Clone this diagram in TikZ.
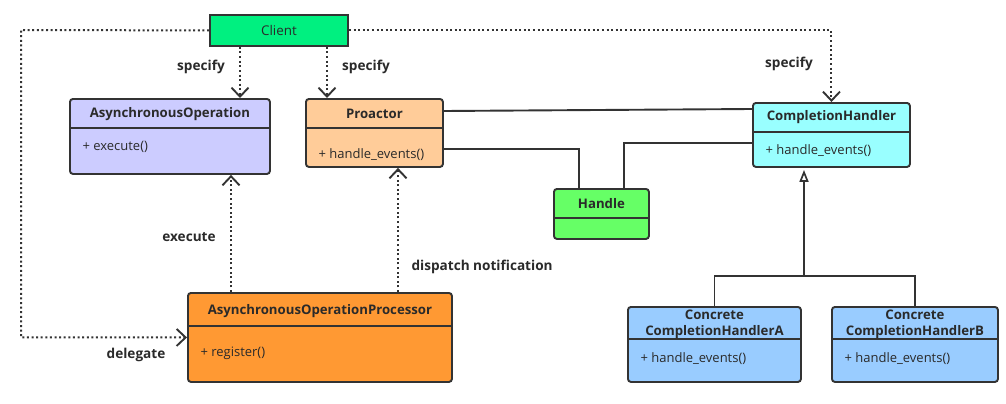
\documentclass[tikz,border=0pt]{standalone}
\usepackage{fontspec}
\setmainfont{Open Sans}
\usetikzlibrary{arrows.meta,calc}
\definecolor{linec}{HTML}{333333}
\definecolor{textc}{HTML}{2A2A2A}
\definecolor{cclient}{HTML}{00F080}
\definecolor{cao}{HTML}{CCCCFF}
\definecolor{cpr}{HTML}{FFCC99}
\definecolor{cch}{HTML}{99FFFF}
\definecolor{chd}{HTML}{66FF66}
\definecolor{caop}{HTML}{FF9933}
\definecolor{ccon}{HTML}{99CCFF}
\begin{document}
\begin{tikzpicture}[x=1pt,y=-1pt,
  box/.style={draw=linec, line width=1.9pt, rounded corners=3pt, anchor=north west, inner sep=0pt},
  title/.style={font=\bfseries\fontsize{13.2}{16}\selectfont, text=textc, align=center},
  meth/.style={font=\fontsize{13}{15}\selectfont, text=textc, anchor=west},
  lbl/.style={font=\bfseries\fontsize{13.6}{16}\selectfont, text=textc},
  conn/.style={draw=linec, line width=1.9pt},
  dep/.style={draw=linec, line width=2pt, dash pattern=on 2pt off 2.6pt,
     -{Straight Barb[length=9pt,width=17pt,line width=1.9pt]}},
  gen/.style={conn, -{Triangle[length=12pt,width=9pt,fill=white,line width=1.7pt]}, shorten >=2pt}]
\useasboundingbox (0,0) rectangle (1006,404);

% boxes
\node[box, rounded corners=0pt, fill=cclient, minimum width=138pt, minimum height=31pt] (client) at (209,14) {};
\node[font=\fontsize{13.4}{16}\selectfont, text=textc] at (client.center) {Client};

\node[box, fill=cao, minimum width=200pt, minimum height=75pt] (ao) at (69,98) {};
\draw[conn] ([yshift=-30pt]ao.north west) -- ([yshift=-30pt]ao.north east);
\node[title] at ([yshift=-16pt]ao.north) {AsynchronousOperation};
\node[meth] at ([xshift=10pt,yshift=-49pt]ao.north west) {+\ execute()};

\node[box, fill=cpr, minimum width=137pt, minimum height=68pt] (pr) at (305,98) {};
\draw[conn] ([yshift=-30pt]pr.north west) -- ([yshift=-30pt]pr.north east);
\node[title] at ([yshift=-16pt]pr.north) {Proactor};
\node[meth] at ([xshift=10pt,yshift=-57pt]pr.north west) {+\ handle\_events()};

\node[box, fill=cch, minimum width=157pt, minimum height=64pt] (ch) at (752,102) {};
\draw[conn] ([yshift=-30pt]ch.north west) -- ([yshift=-30pt]ch.north east);
\node[title] at ([yshift=-15pt]ch.north) {CompletionHandler};
\node[meth] at ([xshift=10pt,yshift=-49pt]ch.north west) {+\ handle\_events()};

\node[box, fill=chd, minimum width=95pt, minimum height=50pt] (handle) at (553,188) {};
\draw[conn] ([yshift=-30pt]handle.north west) -- ([yshift=-30pt]handle.north east);
\node[title] at ([yshift=-16pt]handle.north) {Handle};

\node[box, fill=caop, minimum width=264pt, minimum height=89pt] (aop) at (187,292) {};
\draw[conn] ([yshift=-34pt]aop.north west) -- ([yshift=-34pt]aop.north east);
\node[title] at ([yshift=-19pt]aop.north) {AsynchronousOperationProcessor};
\node[meth] at ([xshift=10pt,yshift=-61pt]aop.north west) {+\ register()};

\node[box, fill=ccon, minimum width=173pt, minimum height=75pt] (ca) at (627,306) {};
\draw[conn] ([yshift=-33pt]ca.north west) -- ([yshift=-33pt]ca.north east);
\node[title, font=\bfseries\fontsize{13.2}{16}\selectfont] at ([yshift=-18pt]ca.north) {Concrete\\CompletionHandlerA};
\node[meth] at ([xshift=10pt,yshift=-53pt]ca.north west) {+\ handle\_events()};

\node[box, fill=ccon, minimum width=166pt, minimum height=75pt] (cb) at (831,306) {};
\draw[conn] ([yshift=-33pt]cb.north west) -- ([yshift=-33pt]cb.north east);
\node[title, font=\bfseries\fontsize{13.2}{16}\selectfont] at ([yshift=-18pt]cb.north) {Concrete\\CompletionHandlerB};
\node[meth] at ([xshift=10pt,yshift=-53pt]cb.north west) {+\ handle\_events()};

% helper coordinates
\coordinate (cl) at (21,30);
\coordinate (xs1) at (240,0);
\coordinate (xs2) at (327,0);
\coordinate (xe) at (231,0);
\coordinate (xd) at (398,0);
\coordinate (y1a) at (0,111);
\coordinate (y1b) at (0,109);
\coordinate (y2) at (0,149);
\coordinate (y3) at (0,143);
\coordinate (xh1) at (579,0);
\coordinate (xh2) at (624,0);
\coordinate (j) at (804,276);

% dependencies
\draw[dep] (client.west) -- (cl) |- (aop.west);
\draw[dep] (client.east) -| (ch.north);
\draw[dep] (client.south -| xs1) -- (ao.north -| xs1);
\draw[dep] (client.south -| xs2) -- (pr.north -| xs2);
\draw[dep] (aop.north -| xe) -- (ao.south -| xe);
\draw[dep] (aop.north -| xd) -- (pr.south -| xd);

% associations
\draw[conn] (pr.east |- y1a) -- (ch.west |- y1b);
\draw[conn] (pr.east |- y2) -| (handle.north -| xh1);
\draw[conn] (handle.north -| xh2) |- (ch.west |- y3);

% generalization
\draw[conn] (ca.north) |- (cb.north |- j) -- (cb.north);
\draw[gen] (j) -- (ch.south -| j);

% labels
\node[lbl] at (201,67) {specify};
\node[lbl] at (366,67) {specify};
\node[lbl] at (789,64) {specify};
\node[lbl] at (189,237) {execute};
\node[lbl, anchor=west] at (408,267) {dispatch notification};
\node[lbl] at (136,355) {delegate};
\end{tikzpicture}
\end{document}
